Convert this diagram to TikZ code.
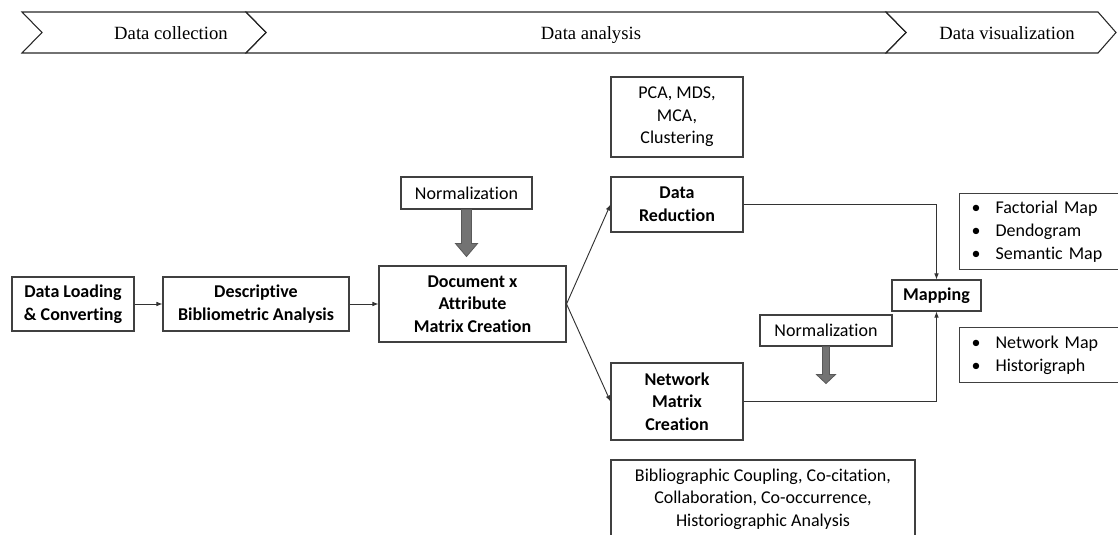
\documentclass[tikz,border=0pt]{standalone}
\usepackage{fontspec}
\setmainfont[Ligatures=NoCommon]{Carlito}
\newfontfamily\bandfont{Liberation Serif}
\usetikzlibrary{arrows.meta}
\usetikzlibrary{calc}
\newcommand{\bul}{\makebox[18pt][l]{\textbullet}}
\newcommand{\normarrow}[5]{\filldraw[blockarrow] ($(#1.south)+(-#2,0)$) -- ($(#1.south)+(-#2,#3)$) -- ($(#1.south)+(-#4,#3)$) -- ($(#1.south)+(0,#3+#5)$) -- ($(#1.south)+(#4,#3)$) -- ($(#1.south)+(#2,#3)$) -- ($(#1.south)+(#2,0)$) -- cycle;}

\begin{document}
\begin{tikzpicture}[x=0.75pt, y=-0.75pt,
  box/.style={draw=black!75, line width=0.8pt, align=center, inner sep=0pt, font=\fontsize{13.5}{17}\selectfont},
  boldbox/.style={box, font=\fontsize{13.5}{17}\selectfont\bfseries},
  listbox/.style={draw=black!75, line width=0.8pt, anchor=north west, align=left, text width=110pt, inner xsep=9pt, inner ysep=0pt, font=\fontsize{13.5}{17.25}\selectfont},
  conn/.style={draw=black!80, line width=0.7pt, -{Latex[length=4.5pt,width=3.5pt]}},
  band/.style={draw=black!85, line width=0.8pt},
  bandtext/.style={font=\bandfont\fontsize{14}{16}\selectfont, text height=9.5pt, text depth=0pt},
  blockarrow/.style={fill=black!55, draw=black!65, line width=0.6pt}]
\useasboundingbox (0,0) rectangle (1118,535);
\clip (0,0) rectangle (1118,535);
% phases
\draw[band] (22,12) -- (246,12) -- (266,32.5) -- (246,53) -- (22,53) -- (42,32.5) -- cycle;
\draw[band] (246,12) -- (886,12) -- (906,32.5) -- (886,53) -- (246,53) -- (266,32.5) -- cycle;
\draw[band] (886,12) -- (1098,12) -- (1116,32.5) -- (1098,53) -- (886,53) -- (906,32.5) -- cycle;
\node[bandtext] (collect) at (171,33) {Data collection};
\node[bandtext] (analysis) at (591,33) {Data analysis};
\node[bandtext] (visual) at (1007,33) {Data visualization};

\node[boldbox, minimum width=91.5pt, minimum height=40.5pt] (load) at (73,304) {Data Loading\\\& Converting};
\node[boldbox, minimum width=139.5pt, minimum height=40.5pt] (desc) at (256,304) {Descriptive\\Bibliometric Analysis};
\node[boldbox, minimum width=140.25pt, minimum height=57pt] (doc) at (472.5,304) {Document x\\Attribute\\Matrix Creation};
\node[box, minimum width=98.25pt, minimum height=24pt] (norm1) at (466.5,193) {Normalization};
\node[box, minimum width=99pt, minimum height=60pt] (pca) at (677,117) {PCA, MDS,\\MCA,\\Clustering};
\node[boldbox, minimum width=99pt, minimum height=41.25pt] (red) at (677,204.5) {Data\\Reduction};
\node[boldbox, minimum width=99pt, minimum height=57.75pt] (net) at (677,401.5) {Network\\Matrix\\Creation};
\node[box, minimum width=228pt, minimum height=58.5pt] (bib) at (763,499) {Bibliographic Coupling, Co-citation,\\Collaboration, Co-occurrence,\\Historiographic Analysis};
\node[boldbox, minimum width=66.75pt, minimum height=23.25pt] (map) at (936.5,295.5) {Mapping};
\node[box, minimum width=99pt, minimum height=23.25pt] (norm2) at (826,330.5) {Normalization};
\node[listbox, minimum height=57pt] (fact) at (959,193) {\bul Factorial Map\\\bul Dendogram\\\bul Semantic Map};
\node[listbox, minimum height=41.25pt] (netmap) at (959,327) {\bul Network Map\\\bul Historigraph};

\draw[conn] (load) -- (desc);
\draw[conn] (desc) -- (doc);
\draw[conn] (doc.east) -- (red.west);
\draw[conn] (doc.east) -- (net.west);
\draw[conn] (red.east) -| (map.north);
\draw[conn] (net.east) -| (map.south);

\normarrow{norm1}{5}{34}{11}{13}
\normarrow{norm2}{3.5}{28}{9.5}{9}
\end{tikzpicture}
\end{document}
